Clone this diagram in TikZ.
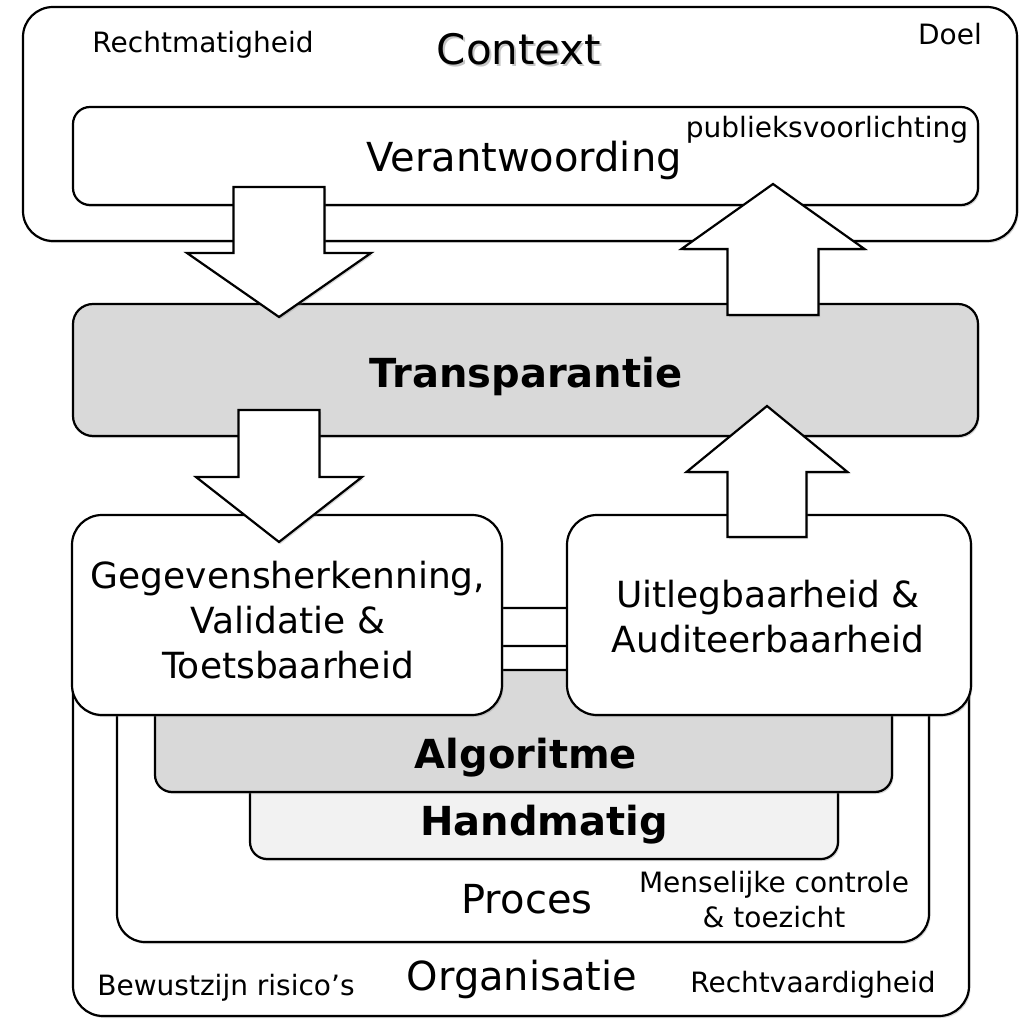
\documentclass[tikz,border=0pt]{standalone}
\usepackage{fontspec}
\setmainfont{DejaVu Sans}
\usetikzlibrary{shadows}
\definecolor{vakgrijs}{HTML}{D9D9D9}
\definecolor{lichtgrijs}{HTML}{F2F2F2}
\newcommand{\klein}{\fontsize{28}{35}\selectfont}
\newcommand{\middel}{\fontsize{36}{45}\selectfont}
\newcommand{\groot}{\fontsize{40}{48}\selectfont}
% blokpijl: tip x, tip y, end of shaft y, head base y, half shaft, half head
\newcommand{\blokpijl}[6]{%
  \draw[pijl] (#1-#5,#3) -- (#1+#5,#3) -- (#1+#5,#4) -- (#1+#6,#4) -- (#1,#2)
    -- (#1-#6,#4) -- (#1-#5,#4) -- cycle;}
\tikzset{vak/.style={draw=black, line width=2.2pt, fill=white,
           drop shadow={opacity=0.3, shadow xshift=1.5pt, shadow yshift=-2pt}},
         pijl/.style={vak, line join=miter},
         tekst/.style={anchor=base, inner sep=0pt}}

\begin{document}
\begin{tikzpicture}[x=1pt, y=-1pt]
\useasboundingbox (0,0) rectangle (1031,1019);
% boven: context en verantwoording
\draw[vak, rounded corners=30] (23,7) rectangle (1017,241);
\draw[vak, rounded corners=17] (73,107) rectangle (978,205);
\draw[vak, fill=vakgrijs, rounded corners=20] (73,304) rectangle (978,436);
% onder: lagen
\draw[vak, rounded corners=30] (73,608) rectangle (969,1016);
\draw[vak, rounded corners=28] (117,646) rectangle (929,942);
\draw[vak, fill=lichtgrijs, rounded corners=17] (250,775) rectangle (838,859);
\draw[vak, fill=vakgrijs, rounded corners=17] (155,670) rectangle (892,792);
\draw[vak, rounded corners=30] (72,515) rectangle (502,715);
\draw[vak, rounded corners=30] (567,515) rectangle (971,715);
% pijlen
\blokpijl{279}{317}{187}{253}{45.5}{92}
\blokpijl{773}{184}{315}{249}{45.5}{91.5}
\blokpijl{279}{542}{410}{477}{40.5}{83}
\blokpijl{767}{406}{537}{472}{39.5}{80.5}
% teksten
\node[tekst] (rechtmatig) at (203,53) {\klein Rechtmatigheid};
\node[tekst, text=black!45, opacity=0.5] (contextschaduw) at (521,67) {\fontsize{42}{50}\selectfont Context};
\node[tekst] (context) at (519,65) {\fontsize{42}{50}\selectfont Context};
\node[tekst] (doel) at (950,45) {\klein Doel};
\node[tekst] (verant) at (524,172) {\groot Verantwoording};
\node[tekst] (publiek) at (827,138) {\klein publieksvoorlichting};
\node[tekst] (transp) at (526,387) {\groot\bfseries Transparantie};
\node[tekst, align=center, font=\middel] (gegevens) at (288,678)
  {Gegevensherkenning,\\Validatie \&\\Toetsbaarheid};
\node[tekst, align=center, font=\middel] (uitleg) at (768,652)
  {Uitlegbaarheid \&\\Auditeerbaarheid};
\node[tekst] (algoritme) at (526,768) {\groot\bfseries Algoritme};
\node[tekst] (handmatig) at (544,835) {\groot\bfseries Handmatig};
\node[tekst] (proces) at (527,913) {\groot Proces};
\node[tekst, align=center, font=\klein] (menselijk) at (774,927)
  {Menselijke controle\\\& toezicht};
\node[tekst] (organisatie) at (522,990) {\groot Organisatie};
\node[tekst] (bewust) at (226,995) {\klein Bewustzijn risico’s};
\node[tekst] (rechtvaardig) at (813,992) {\klein Rechtvaardigheid};
\end{tikzpicture}
\end{document}
